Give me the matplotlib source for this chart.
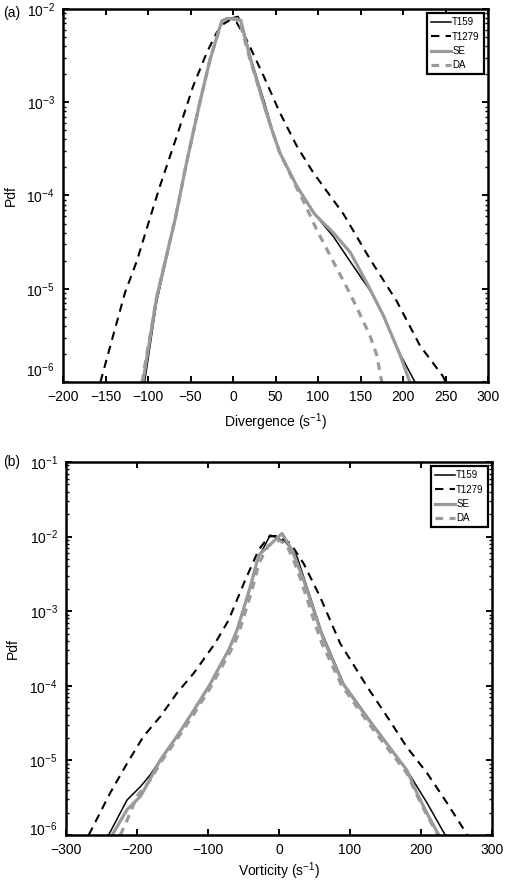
import matplotlib
matplotlib.use("Agg")
import matplotlib.pyplot as plt
from matplotlib.transforms import ScaledTranslation

plt.rcParams['font.family'] = ['Liberation Sans', 'DejaVu Sans']
plt.rcParams['mathtext.fontset'] = 'custom'
plt.rcParams['mathtext.rm'] = 'Liberation Sans'
plt.rcParams['mathtext.it'] = 'Liberation Sans'

GRAY = "#9a9a9a"
labels = ["T159", "T1279", "SE", "DA"]

# ---- panel (a): divergence ----
div_t159_x = [-104, -90, -68, -54.5, -39, -27, -13, 6, 11, 22, 37, 46, 55, 75, 96, 118, 138, 165, 177, 196.5, 214]
div_t159_y = [1.0e-6, 7.08e-6, 5.62e-5, 2.29e-4, 1.0e-3, 2.88e-3, 7.59e-3, 8.32e-3, 6.61e-3, 2.75e-3, 1.0e-3,
              5.13e-4, 2.88e-4, 1.26e-4, 6.31e-5, 3.63e-5, 1.95e-5, 8.51e-6, 5.13e-6, 2.0e-6, 1.0e-6]

div_t1279_x = [-156, -141, -127, -113, -98, -86, -66, -47, -31, -19, -11, -4, 4, 16, 36, 55, 75, 94, 114, 130,
               161, 193, 220, 247, 250]
div_t1279_y = [1.0e-6, 3.16e-6, 9.12e-6, 2.0e-5, 5.62e-5, 1.26e-4, 4.37e-4, 1.48e-3, 3.39e-3, 5.62e-3, 6.92e-3,
               7.59e-3, 7.24e-3, 4.68e-3, 1.91e-3, 7.76e-4, 3.39e-4, 1.78e-4, 1.0e-4, 6.31e-5,
               2.09e-5, 7.24e-6, 2.45e-6, 1.15e-6, 1.0e-6]

div_se_x = [-106, -90, -68, -54.5, -39, -27, -15, -13, -7, 9, 20, 35.5, 45.5, 55, 75, 96, 118, 138, 157, 177, 196.5, 208]
div_se_y = [1.0e-6, 7.94e-6, 5.62e-5, 2.29e-4, 1.0e-3, 2.88e-3, 6.61e-3, 7.41e-3, 7.94e-3, 7.59e-3, 3.02e-3,
            1.0e-3, 5.13e-4, 2.88e-4, 1.26e-4, 6.31e-5, 3.98e-5, 2.45e-5, 1.17e-5, 5.13e-6, 1.95e-6, 1.0e-6]

div_da_x = [-107, -90, -68, -54.5, -39, -27, -13, -5, 7, 20, 35.5, 45.5, 55, 75, 86, 98, 118, 137, 146, 161, 169, 175]
div_da_y = [1.0e-6, 7.94e-6, 5.62e-5, 2.29e-4, 1.0e-3, 2.88e-3, 7.41e-3, 7.94e-3, 7.76e-3, 2.88e-3, 1.0e-3,
            5.13e-4, 2.88e-4, 1.20e-4, 7.59e-5, 4.37e-5, 1.95e-5, 9.12e-6, 6.17e-6, 3.16e-6, 1.95e-6, 1.0e-6]

# ---- panel (b): vorticity ----
vor_t159_x = [-240, -214, -195, -181, -167, -144, -120, -97, -64, -51, -40, -29, -12.3, 9, 25.4, 44, 60, 91,
              124, 152, 180, 208.5, 234]
vor_t159_y = [1.0e-6, 2.95e-6, 4.47e-6, 6.46e-6, 1.02e-5, 2.09e-5, 4.79e-5, 1.07e-4, 4.07e-4, 1.0e-3, 2.14e-3,
              5.25e-3, 1.05e-2, 8.51e-3, 5.37e-3, 1.55e-3, 5.25e-4, 1.07e-4, 3.89e-5, 1.70e-5, 7.41e-6,
              2.69e-6, 1.0e-6]

vor_t1279_x = [-268, -238, -214, -191, -167, -144, -120, -90, -71, -47.5, -28.7, -14.6, -5, 5, 16, 34.6, 58, 72,
               86, 124, 152, 180, 208.5, 236.6, 262, 265]
vor_t1279_y = [1.0e-6, 3.63e-6, 9.12e-6, 2.09e-5, 3.89e-5, 7.94e-5, 1.48e-4, 3.72e-4, 7.59e-4, 2.63e-3, 6.61e-3,
               1.0e-2, 1.02e-2, 9.33e-3, 8.13e-3, 4.37e-3, 1.55e-3, 7.59e-4, 3.72e-4, 9.77e-5, 3.89e-5,
               1.51e-5, 6.76e-6, 2.69e-6, 1.12e-6, 1.0e-6]

vor_se_x = [-235, -214, -195, -177, -167, -144, -120, -97, -70, -59, -40.4, -28.7, 4.2, 18.3, 34.6, 53.5, 62, 90,
            124, 152, 180, 194.4, 208.5, 225]
vor_se_y = [1.0e-6, 2.19e-6, 3.31e-6, 6.76e-6, 1.02e-5, 2.09e-5, 4.68e-5, 1.05e-4, 3.16e-4, 5.62e-4, 2.14e-3,
            5.62e-3, 1.10e-2, 6.61e-3, 2.63e-3, 7.59e-4, 4.37e-4, 1.07e-4, 3.72e-5, 1.66e-5, 7.41e-6,
            3.63e-6, 1.95e-6, 1.0e-6]

vor_da_x = [-223.5, -214, -200, -181, -167, -144, -120, -97, -64, -57, -39, -28, -15, 0, 10, 20, 30, 41.7, 50, 60,
            88, 122, 150, 180, 194, 208, 224]
vor_da_y = [1.0e-6, 1.58e-6, 3.31e-6, 5.50e-6, 9.33e-6, 1.91e-5, 4.17e-5, 9.33e-5, 3.47e-4, 5.01e-4, 1.78e-3,
            4.47e-3, 7.59e-3, 8.91e-3, 7.94e-3, 5.01e-3, 2.75e-3, 1.26e-3, 7.08e-4, 3.80e-4, 1.02e-4,
            3.55e-5, 1.58e-5, 6.76e-6, 3.47e-6, 1.86e-6, 1.0e-6]


def draw_panel(ax, t159, t1279, se, da, xlim, ylim, xticks, yticks, xlabel):
    ax.plot(*t159, color="black", lw=1.1, label=labels[0])
    ax.plot(*t1279, color="black", lw=1.5, dashes=(4, 3), label=labels[1])
    ax.plot(*se, color=GRAY, lw=2.3, label=labels[2])
    ax.plot(*da, color=GRAY, lw=2.3, dashes=(2.4, 2.0), label=labels[3])
    ax.set_yscale("log")
    ax.set_xlim(*xlim)
    ax.set_ylim(*ylim)
    ax.set_xticks(xticks)
    ax.set_yticks(yticks)
    ax.tick_params(which="both", direction="in", top=True, right=True, labelsize=10, pad=6)
    ax.tick_params(which="major", length=4, width=1.4)
    ax.tick_params(which="minor", length=2.5, width=1.0)
    ax.tick_params(axis="x", which="minor", bottom=False, top=False)
    for s in ax.spines.values():
        s.set_linewidth(1.8)
    ax.set_xlabel(xlabel, fontsize=10, va="center")
    ax.set_ylabel("Pdf", fontsize=10)
    leg = ax.legend(loc="upper right", fontsize=7, handlelength=2.1, handletextpad=0.1,
                    labelspacing=0.45, borderpad=0.4, borderaxespad=0.45, fancybox=False,
                    framealpha=1, edgecolor="black")
    leg.get_frame().set_linewidth(1.6)


fig = plt.figure(figsize=(5.05, 8.81), dpi=100)
ax1 = fig.add_axes([0.1248, 0.5664, 0.8416, 0.4234])
ax2 = fig.add_axes([0.1307, 0.0522, 0.8436, 0.4234])

draw_panel(ax1, (div_t159_x, div_t159_y), (div_t1279_x, div_t1279_y), (div_se_x, div_se_y),
           (div_da_x, div_da_y), (-200, 300), (1e-6, 1e-2), range(-200, 301, 50),
           [1e-6, 1e-5, 1e-4, 1e-3, 1e-2], "Divergence (s$^{-1}$)")
draw_panel(ax2, (vor_t159_x, vor_t159_y), (vor_t1279_x, vor_t1279_y), (vor_se_x, vor_se_y),
           (vor_da_x, vor_da_y), (-300, 300), (1e-6, 1e-1), range(-300, 301, 100),
           [1e-6, 1e-5, 1e-4, 1e-3, 1e-2, 1e-1], "Vorticity (s$^{-1}$)")

ax1.xaxis.set_label_coords(0.5, -0.107)
ax2.xaxis.set_label_coords(0.5, -0.096)
ax1.yaxis.set_label_coords(-0.106, 0.5)
ax2.yaxis.set_label_coords(-0.108, 0.5)

# lift the bottom decade label like the original
for ax, dy in ((ax1, 13), (ax2, 7)):
    tick = ax.yaxis.get_major_ticks()[0]
    tick.label1.set_transform(tick.label1.get_transform() + ScaledTranslation(0, dy / 100, fig.dpi_scale_trans))

fig.text(0.006, 1 - 13 / 881, "(a)", fontsize=10, va="center", ha="left")
fig.text(0.006, 1 - 462 / 881, "(b)", fontsize=10, va="center", ha="left")

fig.savefig("out.png", dpi=100)
